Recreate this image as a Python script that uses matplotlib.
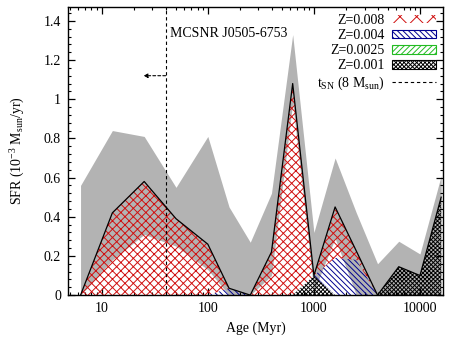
import numpy as np
import matplotlib
matplotlib.use('Agg')
import matplotlib.pyplot as plt
import matplotlib.patches as mpatches
from matplotlib.lines import Line2D
from matplotlib.ticker import FuncFormatter, MultipleLocator, LogLocator, NullFormatter

plt.rcParams['font.family'] = 'Liberation Serif'
plt.rcParams['mathtext.fontset'] = 'custom'
plt.rcParams['mathtext.rm'] = 'Liberation Serif'
plt.rcParams['mathtext.it'] = 'Liberation Serif:italic'
plt.rcParams['hatch.linewidth'] = 0.7

# age bins (log yr) and SFR per metallicity (10^-3 Msun/yr)
log_age = np.array([6.8, 7.1, 7.4, 7.7, 8.0, 8.2, 8.4, 8.6,
                    8.8, 9.0, 9.2, 9.4, 9.6, 9.8, 10.0, 10.2])
sfr_z008 = np.array([0.0, 0.42, 0.58, 0.39, 0.26, 0.0, 0.0, 0.22,
                     1.08, 0.0, 0.26, 0.045, 0.0, 0.0, 0.0, 0.0])
sfr_z004 = np.array([0.0, 0.0, 0.0, 0.0, 0.0, 0.035, 0.0, 0.0,
                     0.0, 0.0, 0.19, 0.18, 0.0, 0.0, 0.0, 0.0])
sfr_z0025 = np.array([0.0, 0.0, 0.0, 0.0, 0.0, 0.0, 0.0, 0.0,
                      0.0, 0.0, 0.0, 0.0, 0.0, 0.0, 0.0, 0.0])
sfr_z001 = np.array([0.0, 0.0, 0.0, 0.0, 0.0, 0.0, 0.0, 0.0,
                     0.0, 0.10, 0.0, 0.0, 0.0, 0.145, 0.10, 0.50])
# total SFR uncertainty band
sfr_upper = np.array([0.56, 0.84, 0.81, 0.55, 0.81, 0.45, 0.27, 0.52,
                      1.33, 0.32, 0.70, 0.42, 0.16, 0.275, 0.21, 0.61])
sfr_lower = np.array([0.0, 0.18, 0.31, 0.25, 0.13, 0.0, 0.0, 0.10,
                      0.98, 0.02, 0.29, 0.0, 0.0, 0.0, 0.0, 0.0])

labels = ['Z=0.008', 'Z=0.004', 'Z=0.0025', 'Z=0.001']
t_sn_myr = 40.0  # lifetime of an 8 Msun star

age = 10 ** (log_age - 6)  # Myr

RED = '#d01010'
NAVY = '#000090'
GREEN = '#22bb22'
GRAY = '#b3b3b3'

HATCH_Z008 = 'xxxx'
HATCH_Z004 = '\\' * 6
HATCH_Z0025 = '/' * 6
HATCH_Z001 = 'x' * 8

fig = plt.figure(figsize=(4.53, 3.40), dpi=100)
ax = fig.add_axes([0.150, 0.132, 0.828, 0.847])

# uncertainty band
ax.fill_between(age, sfr_lower, sfr_upper, color=GRAY, lw=0, zorder=1)

# stacked metallicity components, bottom to top
layers = [(sfr_z001, 'k', HATCH_Z001),
          (sfr_z0025, GREEN, HATCH_Z0025),
          (sfr_z004, NAVY, HATCH_Z004),
          (sfr_z008, RED, HATCH_Z008)]
base = np.zeros_like(age)
for vals, col, hatch in layers:
    ax.fill_between(age, base, base + vals, facecolor='none', edgecolor=col,
                    hatch=hatch, lw=0, zorder=2)
    base = base + vals

ax.plot(age, base, color='k', lw=0.9, zorder=4)

# SN progenitor lifetime
dash = (0, (3, 2.5))
ax.axvline(t_sn_myr, color='k', ls=dash, lw=0.8, zorder=5)
ax.annotate('', xy=(t_sn_myr / 1.62, 1.12), xytext=(t_sn_myr, 1.12),
            arrowprops=dict(arrowstyle='-|>', color='k', lw=0.8, ls=(0, (2.5, 2)),
                            mutation_scale=6, shrinkA=0, shrinkB=0), zorder=5)
ax.text(44, 1.335, 'MCSNR J0505-6753', fontsize=10, va='center')

ax.set_xscale('log')
ax.set_xlim(4.8, 16500)
ax.set_ylim(0, 1.47)
ax.yaxis.set_major_locator(MultipleLocator(0.2))
ax.yaxis.set_minor_locator(MultipleLocator(0.04))
ax.xaxis.set_minor_locator(LogLocator(base=10, subs=range(2, 10)))
ax.xaxis.set_minor_formatter(NullFormatter())
fmt = FuncFormatter(lambda v, p: f'{v:g}')
ax.xaxis.set_major_formatter(fmt)
ax.yaxis.set_major_formatter(fmt)
ax.tick_params(which='both', direction='in', top=True, right=True, labelsize=10)
ax.tick_params(which='major', length=5, width=0.9)
ax.tick_params(which='minor', length=2.5, width=0.8)
ax.tick_params(axis='y', pad=5)
ax.tick_params(axis='x', pad=5)
for s in ax.spines.values():
    s.set_linewidth(1.0)

ax.set_xlabel('Age (Myr)', fontsize=10, labelpad=5)
ax.set_ylabel('SFR (10$^{-3}$ M$_{\\rm sun}$/yr)', fontsize=10, labelpad=12)

# legend: labels right-aligned, handles on the right
handles = [mpatches.Patch(facecolor='none', edgecolor=RED, hatch='xx', lw=0),
           mpatches.Patch(facecolor='none', edgecolor=NAVY, hatch=HATCH_Z004, lw=0.8),
           mpatches.Patch(facecolor='none', edgecolor=GREEN, hatch=HATCH_Z0025, lw=0.8),
           mpatches.Patch(facecolor='none', edgecolor='k', hatch=HATCH_Z001, lw=0.8),
           Line2D([], [], color='k', ls=dash, lw=0.8)]
leg_labels = labels + ['t$_{\\rm SN}$ (8 M$_{\\rm sun}$)']
leg = ax.legend(handles, leg_labels, loc='upper right', frameon=False,
                markerfirst=False, handlelength=3.2, handleheight=0.55,
                handletextpad=0.5, labelspacing=0.15, borderaxespad=0.3,
                borderpad=0.2, fontsize=10)

fig.savefig('out.png', dpi=100)
